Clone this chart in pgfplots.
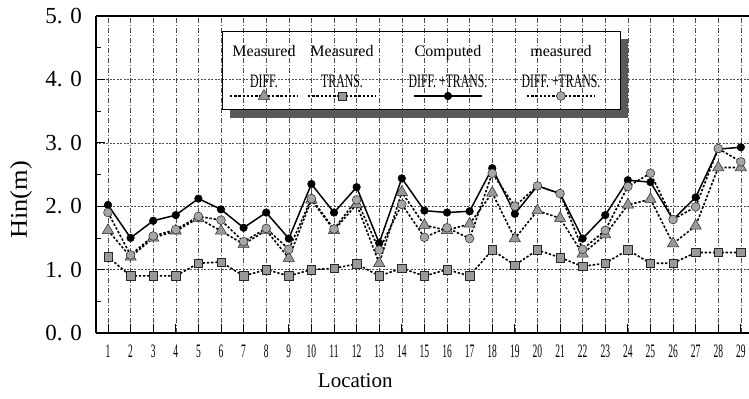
\documentclass[border=0pt]{standalone}
\usepackage{fontspec}
\setmainfont{Liberation Serif}
\usepackage{graphicx}
\usepackage{pgfplots}
\usepackage{pgfplotstable}
\pgfplotsset{compat=1.18}

% condensed text helpers
\newcommand{\ytl}[1]{\scalebox{1}[1]{\fontsize{23bp}{23bp}\selectfont #1}}
\newcommand{\xtl}[1]{\scalebox{0.5}[1]{\fontsize{19bp}{19bp}\selectfont #1}}
\newcommand{\xlabfont}[1]{\scalebox{1}[1]{\fontsize{21bp}{21bp}\selectfont #1}}
\newcommand{\ylabfont}[1]{\scalebox{1.1}[1]{\fontsize{24bp}{24bp}\selectfont #1}}
\newcommand{\legA}[1]{\scalebox{1}[1]{\fontsize{16bp}{16bp}\selectfont #1}}
\newcommand{\legB}[1]{\scalebox{0.62}[1]{\fontsize{19bp}{19bp}\selectfont #1}}

\tikzset{
  dline/.style={black, line width=1.6bp, dash pattern=on 2.4bp off 1.8bp},
  sline/.style={black, line width=1.5bp, solid},
  triM/.style={mark=triangle*, mark size=6.5bp, mark options={solid, fill=black!40, draw=black!85, line width=0.5bp}},
  sqM/.style={mark=square*, mark size=4.2bp, mark options={solid, fill=black!40, draw=black!85, line width=0.5bp}},
  dotM/.style={mark=*, mark size=3.8bp, mark options={solid, fill=black, draw=black, line width=0.5bp}},
  gcM/.style={mark=*, mark size=4.4bp, mark options={solid, fill=black!35, draw=black!85, line width=0.5bp}},
}

% legend cell: width, first line, second line, sample style
\pgfplotsset{
  legcell/.style n args={4}{legend image code/.code={%
    \path[draw=none, fill=none] (0bp,-13bp) rectangle (#1,65bp);
    \draw[#4, mark repeat=2, mark phase=2] plot coordinates {(#1/2-34bp,0bp) (#1/2,0bp) (#1/2+34bp,0bp)};
    \node[inner sep=0pt, draw=none, fill=none] at (#1/2,44bp) {\legA{#2}};
    \node[inner sep=0pt, draw=none, fill=none] at (#1/2,14bp) {\legB{#3}};
  }},
}

% wave height Hin(m) at each location
\pgfplotstableread{
loc C D T DT
1 2.02 1.62 1.20 1.90
2 1.50 1.20 0.90 1.23
3 1.77 1.50 0.90 1.53
4 1.86 1.61 0.90 1.63
5 2.12 1.81 1.10 1.84
6 1.95 1.61 1.12 1.78
7 1.66 1.40 0.90 1.44
8 1.90 1.62 1.00 1.65
9 1.49 1.18 0.90 1.32
10 2.35 2.10 1.00 2.12
11 1.90 1.62 1.02 1.64
12 2.30 2.03 1.09 2.10
13 1.42 1.10 0.90 1.31
14 2.44 2.22 1.02 2.03
15 1.93 1.70 0.90 1.51
16 1.90 1.62 1.00 1.66
17 1.92 1.72 0.90 1.49
18 2.60 2.21 1.31 2.52
19 1.88 1.49 1.07 2.00
20 2.32 1.93 1.31 2.32
21 2.20 1.81 1.19 2.20
22 1.49 1.25 1.05 1.32
23 1.86 1.55 1.10 1.62
24 2.41 2.02 1.31 2.31
25 2.38 2.11 1.10 2.52
26 1.79 1.41 1.10 1.79
27 2.14 1.69 1.27 1.99
28 2.90 2.61 1.27 2.91
29 2.93 2.61 1.27 2.70
}\hdata

\begin{document}
\begin{tikzpicture}
\useasboundingbox (-96bp,-66bp) rectangle (653bp,333bp);
\begin{axis}[
  at={(0,0)}, anchor=south west,
  scale only axis, width=653bp, height=317bp,
  xmin=0.47, xmax=29.36, ymin=0, ymax=5,
  separate axis lines,
  axis x line*=box, axis y line*=left,
  axis line style={line width=1.2bp, black},
  xtick={1,...,29}, xtick pos=left, ytick pos=left,
  ytick={0,1,2,3,4,5},
  yticklabels={\ytl{0. 0},\ytl{1. 0},\ytl{2. 0},\ytl{3. 0},\ytl{4. 0},\ytl{5. 0}},
  minor y tick num=1,
  tick align=inside,
  major tick length=9bp, minor tick length=5bp,
  tick style={black, line width=0.8bp},
  xticklabel={\xtl{\pgfmathprintnumber[assume math mode=true]{\tick}}},
  xticklabel style={inner sep=0pt, anchor=north, yshift=-12bp},
  yticklabel style={inner sep=0pt, anchor=east, xshift=-14bp},
  xmajorgrids, ymajorgrids,
  major x grid style={black!70, line width=0.5bp, dash pattern=on 5bp off 2bp on 1bp off 2bp},
  major y grid style={black!70, line width=0.5bp, dash pattern=on 2bp off 1.5bp},
  xlabel={\xlabfont{Location}}, ylabel={\ylabfont{Hin(m)}},
  every axis x label/.style={at={(axis description cs:0.397,0)}, anchor=center, yshift=-48bp},
  every axis y label/.style={at={(axis description cs:0,0.42)}, xshift=-75bp, anchor=center, rotate=90},
  legend columns=4,
  legend style={draw=none, fill=none, inner sep=0pt, outer sep=0pt,
    nodes={inner sep=0pt, outer sep=0pt, draw=none}, column sep=0pt,
    at={(0.20214,0.95268)}, anchor=north west},
]
% legend frame with its shadow
\fill[black!65] (rel axis cs:0.2052,0.678) rectangle (rel axis cs:0.815,0.7066);
\fill[black!65] (rel axis cs:0.8025,0.678) rectangle (rel axis cs:0.815,0.9275);
\draw[black, line width=0.9bp] (rel axis cs:0.193,0.7066) rectangle (rel axis cs:0.8025,0.9527);

\addplot[forget plot, dline, sqM] table[x=loc, y=T] {\hdata};
\addplot[forget plot, dline, triM] table[x=loc, y=D] {\hdata};
\addplot[forget plot, sline, dotM] table[x=loc, y=C] {\hdata};
\addplot[forget plot, dline, gcM] table[x=loc, y=DT] {\hdata};

\addlegendimage{legcell={72bp}{Measured}{DIFF.}{dline,triM}}
\addlegendentry{\relax}
\addlegendimage{legcell={82bp}{Measured}{TRANS.}{dline,sqM}}
\addlegendentry{\relax}
\addlegendimage{legcell={128bp}{Computed}{DIFF. +TRANS.}{sline,dotM}}
\addlegendentry{\relax}
\addlegendimage{legcell={96bp}{measured}{DIFF. +TRANS.}{dline,gcM}}
\addlegendentry{\relax}
\end{axis}
\end{tikzpicture}
\end{document}
